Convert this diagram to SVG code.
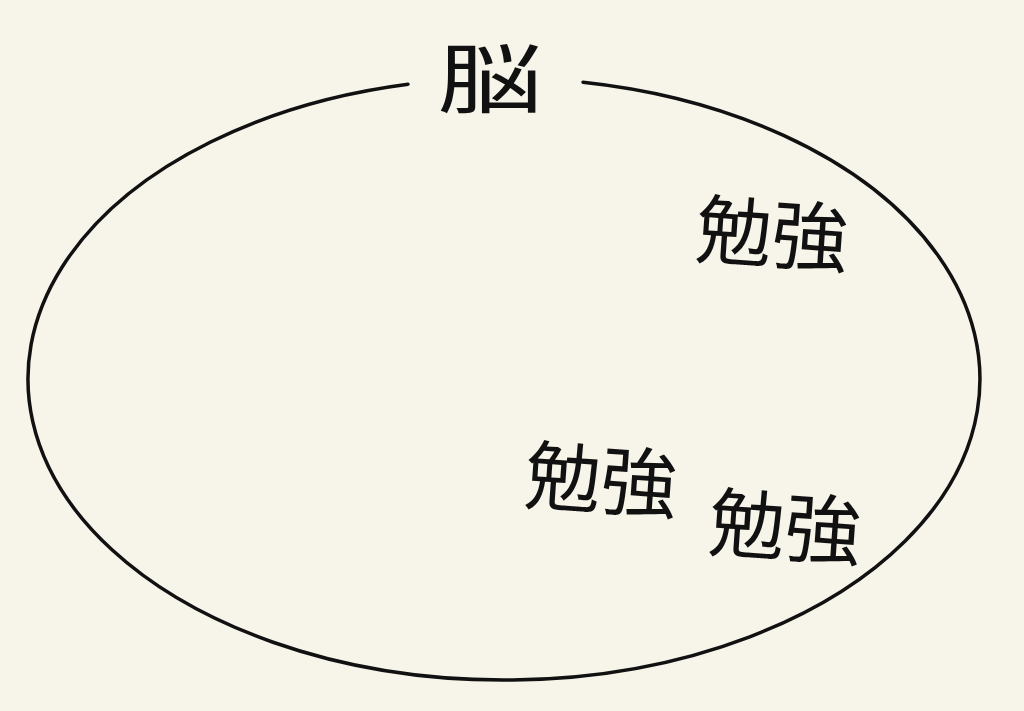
<svg xmlns="http://www.w3.org/2000/svg" width="1024" height="711" viewBox="0 0 1024 711">
<style>
.t{font-family:"Noto Sans CJK JP","Noto Sans CJK SC",sans-serif;font-weight:400;fill:#111;font-size:76px}
</style>
<rect width="1024" height="711" fill="#f7f5ea"/>
<g id="connectors"/>
<g id="brain">
<path d="M583 82.2 A476 301 0 1 1 408 84.2" fill="none" stroke="#111" stroke-width="3.5" stroke-linecap="round"/>
<text class="t" x="0" y="0" text-anchor="middle" font-size="92" transform="translate(490 107) scale(1.38 1)">脳</text>
</g>
<g id="study1"><text class="t" x="772" y="262" text-anchor="middle" transform="rotate(4 772 235)">勉強</text></g>
<g id="study2"><text class="t" x="601" y="508" text-anchor="middle" transform="rotate(4 601 480)">勉強</text></g>
<g id="study3"><text class="t" x="785" y="555" text-anchor="middle" transform="rotate(4 785 527)">勉強</text></g>
</svg>
